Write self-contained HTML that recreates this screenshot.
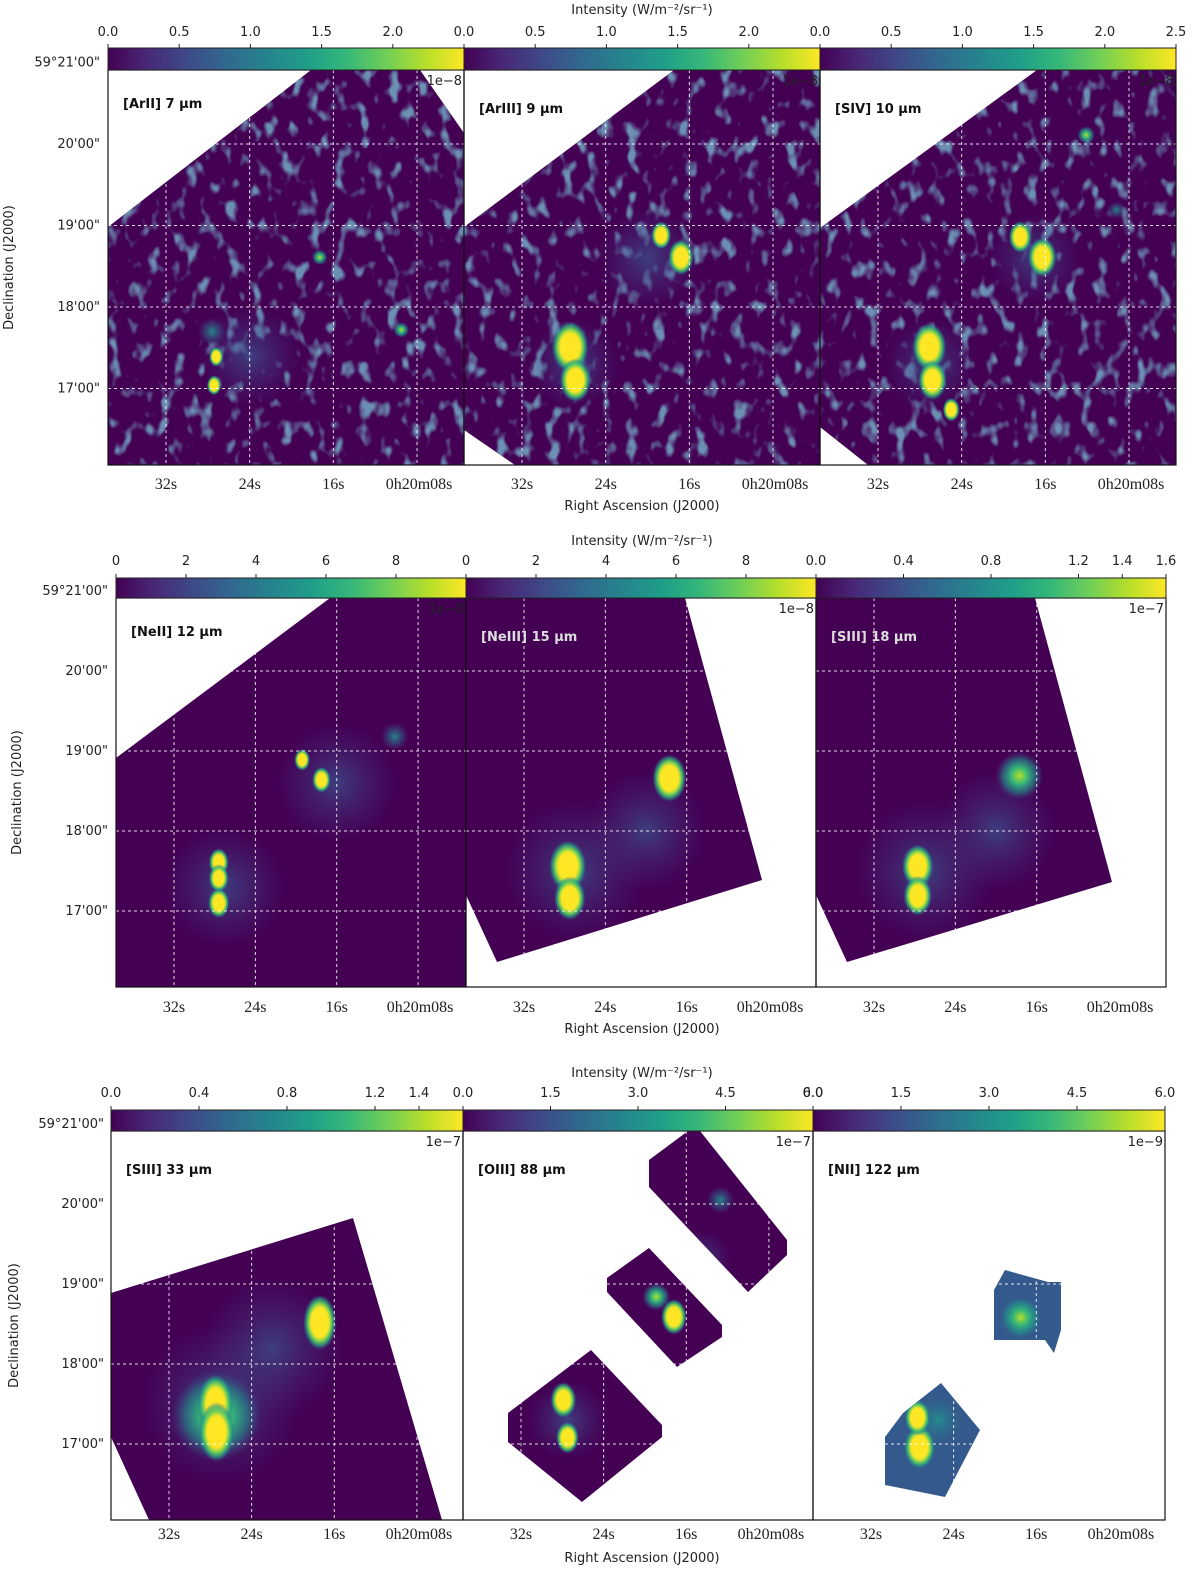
<!DOCTYPE html>
<html><head><meta charset="utf-8"><title>Ionic line maps</title>
<style>
html,body{margin:0;padding:0;background:#fff;overflow:hidden;width:1200px;height:1579px;}
svg{display:block;}
.tk{font-family:"DejaVu Sans","Liberation Sans",sans-serif;font-size:13px;fill:#222;}
.ra{font-family:"Liberation Serif",serif;font-size:16px;fill:#222;}
.ttl{font-family:"DejaVu Sans","Liberation Sans",sans-serif;font-size:13px;font-weight:bold;fill:#111;}
</style></head>
<body>
<svg id="fig" width="1200" height="1579" viewBox="0 0 1200 1579" xmlns="http://www.w3.org/2000/svg">
<defs>
<linearGradient id="viridis" x1="0" x2="1" y1="0" y2="0">
<stop offset="0" stop-color="#440154"/><stop offset="0.11" stop-color="#482878"/><stop offset="0.22" stop-color="#3e4989"/><stop offset="0.33" stop-color="#31688e"/><stop offset="0.44" stop-color="#26828e"/><stop offset="0.56" stop-color="#1f9e89"/><stop offset="0.67" stop-color="#35b779"/><stop offset="0.78" stop-color="#6ece58"/><stop offset="0.89" stop-color="#b5de2b"/><stop offset="1" stop-color="#fde725"/>
</linearGradient>
<radialGradient id="g-hi"><stop offset="0" stop-color="#fde725"/><stop offset="0.52" stop-color="#fde725"/><stop offset="0.68" stop-color="#7ad151"/><stop offset="0.84" stop-color="#22a884" stop-opacity="0.7"/><stop offset="1" stop-color="#3b528b" stop-opacity="0"/></radialGradient>
<radialGradient id="g-mid"><stop offset="0" stop-color="#b5de2b"/><stop offset="0.35" stop-color="#35b779"/><stop offset="0.7" stop-color="#21918c" stop-opacity="0.6"/><stop offset="1" stop-color="#3b528b" stop-opacity="0"/></radialGradient>
<radialGradient id="g-lo"><stop offset="0" stop-color="#21918c" stop-opacity="0.9"/><stop offset="0.5" stop-color="#2c728e" stop-opacity="0.5"/><stop offset="1" stop-color="#3b528b" stop-opacity="0"/></radialGradient>
<radialGradient id="g-glow"><stop offset="0" stop-color="#3b528b" stop-opacity="0.75"/><stop offset="1" stop-color="#46337e" stop-opacity="0"/></radialGradient>
<filter id="noise" x="0" y="0" width="1" height="1"><feTurbulence type="fractalNoise" baseFrequency="0.075 0.05" numOctaves="2" seed="7"/><feColorMatrix type="matrix" values="0 0 0 0 0.17  0 0 0 0 0.40  0 0 0 0 0.55  5 0 0 0 -2.75"/></filter>
</defs>
</svg>
<script>
// ---- data ----
const panelTitles = ["[ArII] 7 \u03bcm","[ArIII] 9 \u03bcm","[SIV] 10 \u03bcm","[NeII] 12 \u03bcm","[NeIII] 15 \u03bcm","[SIII] 18 \u03bcm","[SIII] 33 \u03bcm","[OIII] 88 \u03bcm","[NII] 122 \u03bcm"];
const cbarMax = [2.5,2.5,2.5,10,10,1.6,1.6,6,6];
const cbarTicks = [[0,0.5,1,1.5,2],[0,0.5,1,1.5,2],[0,0.5,1,1.5,2,2.5],[0,2,4,6,8],[0,2,4,6,8],[0,0.4,0.8,1.2,1.4,1.6],[0,0.4,0.8,1.2,1.4],[0,1.5,3,4.5,6],[0,1.5,3,4.5,6]];
const cbarDecimals = [1,1,1,0,0,1,1,1,1];
const cbarExp = ["1e\u22128","1e\u22128","1e\u22128","1e\u22128","1e\u22128","1e\u22127","1e\u22127","1e\u22127","1e\u22129"];
const raTicks = [32,24,16,8];
const raTickLabels = ["32s","24s","16s","0h20m08s"];
const decTicks = [21,20,19,18,17];
const decTickLabels = ["59\u00b021'00\"","20'00\"","19'00\"","18'00\"","17'00\""];
// blobs: RA seconds, Dec arcmin (past 59°), level (1 high, 0.5 mid, 0.3 low, 0.1 glow), radius px
const blobRA  = [[27.2,27.4,27.6,17.3,9.5,24],[27.4,26.9,18.7,16.8,27,20],[27.1,26.8,25.0,18.4,16.3,12.1,9.2,27,17],
                 [27.6,27.6,27.6,19.4,17.5,10.3,27,16],[27.7,27.5,17.7,27,20],[27.7,27.7,17.7,27,20],
                 [27.5,27.4,17.4,27,22,27.4],[27.9,27.5,18.9,17.2,12.7,14.5,27.5],[27.3,27.5,17.5,25.5]];
const blobDec = [[17.39,17.04,17.7,18.61,17.72,17.4],[17.51,17.1,18.88,18.61,17.3,18.6],[17.51,17.1,16.74,18.86,18.61,20.11,19.19,17.3,18.6],
                 [17.61,17.41,17.1,18.89,18.64,19.18,17.3,18.6],[17.56,17.16,18.66,17.5,18],[17.56,17.19,18.69,17.5,18],
                 [17.5,17.15,18.52,17.5,18.2,17.35],[17.55,17.08,18.84,18.59,20.05,19.3,17.3],[16.96,17.33,18.58,17.3]];
const blobLvl = [[1,1,0.3,0.5,0.5,0.1],[1,1,1,1,0.1,0.1],[1,1,1,1,1,0.5,0.3,0.1,0.1],
                 [1,1,1,1,1,0.3,0.1,0.1],[1,1,0.9,0.1,0.1],[0.9,0.9,0.5,0.1,0.1],
                 [1,1,0.9,0.1,0.1,0.5],[1,1,0.5,1,0.3,0.1,0.1],[1,1,0.5,0.3]];
const blobR   = [[10,10,14,8,8,50],[26,22,14,18,45,50],[24,20,12,16,20,9,9,45,45],
                 [14,14,15,11,13,14,60,60],[26,22,24,70,60],[22,20,24,70,60],
                 [30,30,28,80,70,45],[18,16,14,18,14,30,40],[22,18,22,30]];
// ---- layout (geometry, not data) ----
const rows = [
 {y0:70,y1:465,cb0:48,x:[108,464,820,1176],decY20:144,decK:81.5,raK:10.46,ra32:58,tickY:36,titleY:14,raY:489,xlabY:510,declX:13,ylabR:100},
 {y0:598,y1:987,cb0:578,x:[116,466,816,1166],decY20:671,decK:80,raK:10.17,ra32:58,tickY:565,titleY:545,raY:1012,xlabY:1033,declX:21,ylabR:108},
 {y0:1131,y1:1520,cb0:1110,x:[111,463,813,1165],decY20:1204,decK:80,raK:10.33,ra32:58,tickY:1097,titleY:1077,raY:1539,xlabY:1562,declX:18,ylabR:104}
];
const masks = [
 [[[311,70],[420,70],[464,133],[464,465],[108,465],[108,227]]],
 [[[674,70],[820,70],[820,465],[515,465],[464,430],[464,227]]],
 [[[1037,70],[1176,70],[1176,465],[868,465],[820,427],[820,228]]],
 [[[330,598],[466,598],[466,987],[116,987],[116,758]]],
 [[[466,598],[685,598],[762,880],[497,962],[466,895]]],
 [[[816,598],[1035,598],[1112,882],[847,962],[816,895]]],
 [[[111,1293],[353,1218],[442,1520],[149,1520],[111,1437]]],
 [[[649,1160],[688,1131],[700,1131],[787,1240],[787,1255],[748,1292],[649,1187]],
  [[607,1278],[649,1248],[722,1325],[722,1337],[677,1367],[607,1292]],
  [[508,1413],[591,1350],[662,1425],[662,1437],[582,1502],[508,1442]]],
 [[[994,1290],[1005,1270],[1048,1282],[1061,1282],[1061,1330],[1054,1353],[1045,1340],[994,1340]],
  [[885,1437],[903,1413],[941,1383],[980,1430],[945,1497],[885,1485]]]
];
const maskFill = ["#440154","#440154","#440154","#440154","#440154","#440154","#440154","#440154","#34598c"];
const titleFill = ["#111","#111","#111","#111","#ddd","#ddd","#111","#111","#111"];
const NS="http://www.w3.org/2000/svg";
const svg=document.getElementById('fig');
const defs=svg.querySelector('defs');
function mk(tag,attrs,parent){const e=document.createElementNS(NS,tag);for(const k in attrs)e.setAttribute(k,attrs[k]);(parent||svg).appendChild(e);return e;}
function txt(s,x,y,cls,anchor,parent){const t=mk('text',{x:x,y:y,class:cls,'text-anchor':anchor||'middle'},parent);t.textContent=s;return t;}
const gradFor={1:'g-hi',0.9:'g-hi',0.8:'g-hi',0.5:'g-mid',0.3:'g-lo',0.1:'g-glow'};

for(let r=0;r<3;r++){
  const R=rows[r];
  const it=txt("Intensity (W/m\u207b\u00b2/sr\u207b\u00b9)",642,R.titleY,'tk');
  
  
  const xl=txt("Right Ascension (J2000)",642,R.xlabY,'tk');
  
  
  const cy=(R.y0+R.y1)/2;
  const dl=txt("Declination (J2000)",R.declX,cy,'tk');
  dl.setAttribute('transform','rotate(-90 '+R.declX+' '+cy+')');
  
  
  const decY=d=>R.decY20+(20-d)*R.decK;
  decTicks.forEach((d,i)=>{
    const t=txt(decTickLabels[i],R.ylabR,decY(d)+4,'tk','end');
    
    
  });
  for(let c=0;c<3;c++){
    const p=r*3+c, x0=R.x[c], x1=R.x[c+1], w=x1-x0;
    const raX=s=>x0+R.ra32+(32-s)*R.raK;
    const g=mk('g',{});
    
    
    const cp=mk('clipPath',{id:'clip'+p},defs);
    masks[p].forEach(poly=>mk('polygon',{points:poly.map(q=>q.join(',')).join(' ')},cp));
    const img=mk('g',{'clip-path':'url(#clip'+p+')'},g);
    
    
    mk('rect',{x:x0,y:R.y0,width:w,height:R.y1-R.y0,fill:maskFill[p]},img);
    if(r===0){mk('rect',{x:x0,y:R.y0,width:w,height:R.y1-R.y0,filter:'url(#noise)',opacity:0.85},img);}
    const order=blobRA[p].map((_,i)=>i).sort((a,b)=>blobLvl[p][a]-blobLvl[p][b]);
    order.forEach(i=>{
      const lv=blobLvl[p][i], rr=blobR[p][i];
      const e=mk('ellipse',{cx:raX(blobRA[p][i]),cy:decY(blobDec[p][i]),rx:rr*(lv>=0.8?(p===6?0.6:0.72):1),ry:rr,fill:'url(#'+gradFor[lv]+')'},img);
      
      
    });
    raTicks.forEach(s=>{const l=mk('line',{x1:raX(s),x2:raX(s),y1:R.y0,y2:R.y1,stroke:'#fff','stroke-width':1,'stroke-dasharray':'3,3',opacity:0.85},g);
      
      });
    decTicks.slice(1).forEach(d=>{const l=mk('line',{x1:x0,x2:x1,y1:decY(d),y2:decY(d),stroke:'#fff','stroke-width':1,'stroke-dasharray':'3,3',opacity:0.85},g);
      
      });
    const fr=mk('rect',{x:x0,y:R.y0,width:w,height:R.y1-R.y0,fill:'none',stroke:'#111','stroke-width':1.2},g);
    
    
    raTicks.forEach((s,i)=>{
      const t=txt(raTickLabels[i],raX(s)+(i===3?2:0),R.raY,'ra','middle',g);
      
      
    });
    const cb=mk('rect',{x:x0,y:R.cb0,width:w,height:R.y0-R.cb0,fill:'url(#viridis)',stroke:'#222','stroke-width':1},g);
    
    
    cbarTicks[p].forEach(v=>{
      const tx=x0+v/cbarMax[p]*w;
      mk('line',{x1:tx,x2:tx,y1:R.cb0,y2:R.cb0-4,stroke:'#222','stroke-width':1},g);
      const t=txt(v.toFixed(cbarDecimals[p]),tx,R.tickY,'tk','middle',g);
      
      
    });
    const ex=txt(cbarExp[p],x1-2,R.y0+15,'tk','end',g);
    
    
    const ti=txt(panelTitles[p],x0+15,R.y0+(c===0&&r<2?38:43),'ttl','start',g);
    ti.setAttribute('fill',titleFill[p]);
    ti.style.fill=titleFill[p];
    
    
  }
}
</script>
</body></html>
